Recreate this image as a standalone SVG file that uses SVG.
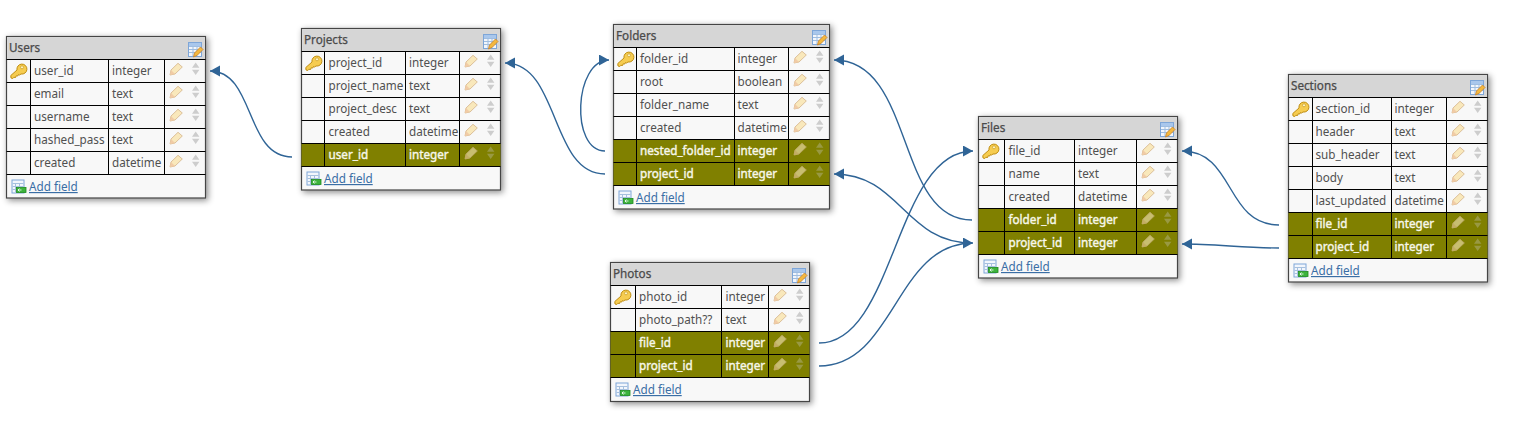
<svg xmlns="http://www.w3.org/2000/svg" width="1522" height="432" viewBox="0 0 1522 432">
<style>
text{font-family:"Noto Sans","Open Sans",sans-serif;font-size:11.7px;fill:#505050}
.title{fill:#4a4a4a;stroke:#4a4a4a;stroke-width:.25}
.box{fill:#f8f8f8;stroke:#444;stroke-width:1.2;filter:url(#sh)}
.head{fill:#d6d6d6}
.grid{stroke:#000;stroke-width:1;fill:none}
.fk{fill:#808000}
text.w{fill:#f7f7ea;stroke:#f7f7ea;stroke-width:.4}
.dim{opacity:.6}
.dima{opacity:.32}
.link{fill:#3a6ea5;text-decoration:underline}
.c{fill:none;stroke:#2f6496;stroke-width:1.4;marker-end:url(#ah)}
</style>
<defs>
<filter id="sh" x="-10%" y="-10%" width="125%" height="125%"><feDropShadow dx="2" dy="2" stdDeviation="3" flood-color="#000" flood-opacity=".45"/></filter>
<marker id="ah" markerUnits="userSpaceOnUse" markerWidth="12" markerHeight="12" refX="10" refY="5.500" orient="auto"><path d="M0 0L10 5.500L0 11Z" fill="#2f6496"/></marker>
<g id="key"><path d="M.8 13L7 7.500A5 5 0 1 1 11 11.500L9.500 12.500L8.500 12L7.800 13.500L6.200 13.300L5.600 15L3.800 14.800L2.800 16L1 15.500Z" fill="#f6cc50" stroke="#c08f14" stroke-width="1"/><circle cx="12" cy="4.800" r="1.500" fill="#fff6c4" stroke="#c08f14" stroke-width=".6"/></g>
<g id="pen"><path d="M.5 12.500L1.500 7.500L8.500 .8L12.800 4.500L5.500 11.500Z" fill="#f9e8bb" stroke="#dcc09a" stroke-width="1"/><path d="M.5 12.500L1.500 7.500L5.500 11.500Z" fill="#f1cba6"/></g>
<g id="arr"><path d="M0 5.200L3.700 0L7.400 5.200Z M0 7.300L7.400 7.300L3.700 12.500Z" fill="#cdcdcd"/></g>
<g id="tb"><rect x=".5" y=".5" width="13" height="14" fill="#f2f6fc" stroke="#7ea6d8"/><path d="M1 4.500H13M1 7.500H13M1 10.500H13M5 4.500V14M9 4.500V14" stroke="#9fbde0" stroke-width="1"/><rect x="1" y="1" width="12" height="3" fill="#a9c7ec"/><path d="M5.500 15L6.500 11L12.500 5L15 7.500L9 13.500Z" fill="#f4b83e" stroke="#c9812a" stroke-width=".8"/></g>
<g id="add"><rect x=".5" y=".5" width="12" height="13" fill="#f2f6fc" stroke="#7ea6d8"/><path d="M1 4H12M1 7H12M1 10H12M4 4V13M8 4V13" stroke="#a6c0de" stroke-width="1"/><rect x="5" y="8" width="9.500" height="5" fill="#3cb33c" stroke="#1d8a1d" stroke-width=".8"/><path d="M6.500 10.500H10M8 9L6.500 10.500L8 12" stroke="#fff" fill="none" stroke-width=".8"/></g>
</defs>
<rect width="1522" height="432" fill="#fff"/>
<g id="users" transform="translate(6.5,36.5)">
<rect class="box" width="199" height="161.500"/>
<rect class="head" x=".6" y=".6" width="197.800" height="22"/>
<text class="title" x="2.500" y="15.500">Users</text><use href="#tb" x="181.500" y="5.500"/>
<path class="grid" d="M0 23H199M0 46H199M0 69H199M0 92H199M0 115H199M0 138H199M24 23V138M102 23V138M158 23V138"/>
<use href="#key" x="3.500" y="26"/>
<text x="27.500" y="38.500">user_id</text><text x="105.500" y="38.500">integer</text>
<text x="27.500" y="61.500">email</text><text x="105.500" y="61.500">text</text>
<text x="27.500" y="84.500">username</text><text x="105.500" y="84.500">text</text>
<text x="27.500" y="107.500">hashed_pass</text><text x="105.500" y="107.500">text</text>
<text x="27.500" y="130.500">created</text><text x="105.500" y="130.500">datetime</text>
<use href="#pen" x="163" y="26"/><use href="#arr" x="185.500" y="26"/>
<use href="#pen" x="163" y="49"/><use href="#arr" x="185.500" y="49"/>
<use href="#pen" x="163" y="72"/><use href="#arr" x="185.500" y="72"/>
<use href="#pen" x="163" y="95"/><use href="#arr" x="185.500" y="95"/>
<use href="#pen" x="163" y="118"/><use href="#arr" x="185.500" y="118"/>
<use href="#add" x="5" y="143"/><text class="link" x="22.500" y="154.500">Add field</text>
</g>
<g id="projects" transform="translate(301.500,28.500)">
<rect class="box" width="199" height="161.500"/>
<rect class="head" x=".6" y=".6" width="197.800" height="22"/>
<text class="title" x="2.500" y="15.500">Projects</text><use href="#tb" x="181.500" y="5.500"/>
<rect class="fk" y="115" width="199" height="23"/>
<path class="grid" d="M0 23H199M0 46H199M0 69H199M0 92H199M0 115H199M0 138H199M23 23V138M104 23V138M158 23V138"/>
<use href="#key" x="3.500" y="26"/>
<text x="27" y="38.500">project_id</text><text x="107.500" y="38.500">integer</text>
<text x="27" y="61.500">project_name</text><text x="107.500" y="61.500">text</text>
<text x="27" y="84.500">project_desc</text><text x="107.500" y="84.500">text</text>
<text x="27" y="107.500">created</text><text x="107.500" y="107.500">datetime</text>
<text class="w" x="27" y="130.500">user_id</text><text class="w" x="107.500" y="130.500">integer</text>
<use href="#pen" x="163" y="26"/><use href="#arr" x="185.500" y="26"/>
<use href="#pen" x="163" y="49"/><use href="#arr" x="185.500" y="49"/>
<use href="#pen" x="163" y="72"/><use href="#arr" x="185.500" y="72"/>
<use href="#pen" x="163" y="95"/><use href="#arr" x="185.500" y="95"/>
<use class="dim" href="#pen" x="163" y="118"/><use class="dima" href="#arr" x="185.500" y="118"/>
<use href="#add" x="5" y="143"/><text class="link" x="22.500" y="154.500">Add field</text>
</g>
<g id="folders" transform="translate(613.500,24.500)">
<rect class="box" width="216" height="184.500"/>
<rect class="head" x=".6" y=".6" width="214.800" height="22"/>
<text class="title" x="2.500" y="15.500">Folders</text><use href="#tb" x="198.500" y="5.500"/>
<rect class="fk" y="115" width="216" height="46"/>
<path class="grid" d="M0 23H216M0 46H216M0 69H216M0 92H216M0 115H216M0 138H216M0 161H216M23 23V161M121 23V161M175 23V161"/>
<use href="#key" x="3.500" y="26"/>
<text x="26.500" y="38.500">folder_id</text><text x="124" y="38.500">integer</text>
<text x="26.500" y="61.500">root</text><text x="124" y="61.500">boolean</text>
<text x="26.500" y="84.500">folder_name</text><text x="124" y="84.500">text</text>
<text x="26.500" y="107.500">created</text><text x="124" y="107.500">datetime</text>
<text class="w" x="26.500" y="130.500">nested_folder_id</text><text class="w" x="124" y="130.500">integer</text>
<text class="w" x="26.500" y="153.500">project_id</text><text class="w" x="124" y="153.500">integer</text>
<use href="#pen" x="180" y="26"/><use href="#arr" x="202.500" y="26"/>
<use href="#pen" x="180" y="49"/><use href="#arr" x="202.500" y="49"/>
<use href="#pen" x="180" y="72"/><use href="#arr" x="202.500" y="72"/>
<use href="#pen" x="180" y="95"/><use href="#arr" x="202.500" y="95"/>
<use class="dim" href="#pen" x="180" y="118"/><use class="dima" href="#arr" x="202.500" y="118"/>
<use class="dim" href="#pen" x="180" y="141"/><use class="dima" href="#arr" x="202.500" y="141"/>
<use href="#add" x="5" y="166"/><text class="link" x="22.500" y="177.500">Add field</text>
</g>
<g id="photos" transform="translate(610.500,262.500)">
<rect class="box" width="199" height="139"/>
<rect class="head" x=".6" y=".6" width="197.800" height="22"/>
<text class="title" x="2.500" y="15.500">Photos</text><use href="#tb" x="181.500" y="5.500"/>
<rect class="fk" y="69" width="199" height="46"/>
<path class="grid" d="M0 23H199M0 46H199M0 69H199M0 92H199M0 115H199M25 23V115M111 23V115M158 23V115"/>
<use href="#key" x="3.500" y="26"/>
<text x="28.500" y="38.500">photo_id</text><text x="115" y="38.500">integer</text>
<text x="28.500" y="61.500">photo_path??</text><text x="115" y="61.500">text</text>
<text class="w" x="28.500" y="84.500">file_id</text><text class="w" x="115" y="84.500">integer</text>
<text class="w" x="28.500" y="107.500">project_id</text><text class="w" x="115" y="107.500">integer</text>
<use href="#pen" x="163" y="26"/><use href="#arr" x="185.500" y="26"/>
<use href="#pen" x="163" y="49"/><use href="#arr" x="185.500" y="49"/>
<use class="dim" href="#pen" x="163" y="72"/><use class="dima" href="#arr" x="185.500" y="72"/>
<use class="dim" href="#pen" x="163" y="95"/><use class="dima" href="#arr" x="185.500" y="95"/>
<use href="#add" x="5" y="120"/><text class="link" x="22.500" y="131.500">Add field</text>
</g>
<g id="files" transform="translate(978.500,116.500)">
<rect class="box" width="199" height="161.500"/>
<rect class="head" x=".6" y=".6" width="197.800" height="22"/>
<text class="title" x="2.500" y="15.500">Files</text><use href="#tb" x="181.500" y="5.500"/>
<rect class="fk" y="92" width="199" height="46"/>
<path class="grid" d="M0 23H199M0 46H199M0 69H199M0 92H199M0 115H199M0 138H199M26 23V138M96 23V138M158 23V138"/>
<use href="#key" x="3.500" y="26"/>
<text x="30" y="38.500">file_id</text><text x="99.500" y="38.500">integer</text>
<text x="30" y="61.500">name</text><text x="99.500" y="61.500">text</text>
<text x="30" y="84.500">created</text><text x="99.500" y="84.500">datetime</text>
<text class="w" x="30" y="107.500">folder_id</text><text class="w" x="99.500" y="107.500">integer</text>
<text class="w" x="30" y="130.500">project_id</text><text class="w" x="99.500" y="130.500">integer</text>
<use href="#pen" x="163" y="26"/><use href="#arr" x="185.500" y="26"/>
<use href="#pen" x="163" y="49"/><use href="#arr" x="185.500" y="49"/>
<use href="#pen" x="163" y="72"/><use href="#arr" x="185.500" y="72"/>
<use class="dim" href="#pen" x="163" y="95"/><use class="dima" href="#arr" x="185.500" y="95"/>
<use class="dim" href="#pen" x="163" y="118"/><use class="dima" href="#arr" x="185.500" y="118"/>
<use href="#add" x="5" y="143"/><text class="link" x="22.500" y="154.500">Add field</text>
</g>
<g id="sections" transform="translate(1288.500,74.500)">
<rect class="box" width="199" height="207.500"/>
<rect class="head" x=".6" y=".6" width="197.800" height="22"/>
<text class="title" x="2.500" y="15.500">Sections</text><use href="#tb" x="181.500" y="5.500"/>
<rect class="fk" y="138" width="199" height="46"/>
<path class="grid" d="M0 23H199M0 46H199M0 69H199M0 92H199M0 115H199M0 138H199M0 161H199M0 184H199M24 23V184M103 23V184M158 23V184"/>
<use href="#key" x="3.500" y="26"/>
<text x="27" y="38.500">section_id</text><text x="106" y="38.500">integer</text>
<text x="27" y="61.500">header</text><text x="106" y="61.500">text</text>
<text x="27" y="84.500">sub_header</text><text x="106" y="84.500">text</text>
<text x="27" y="107.500">body</text><text x="106" y="107.500">text</text>
<text x="27" y="130.500">last_updated</text><text x="106" y="130.500">datetime</text>
<text class="w" x="27" y="153.500">file_id</text><text class="w" x="106" y="153.500">integer</text>
<text class="w" x="27" y="176.500">project_id</text><text class="w" x="106" y="176.500">integer</text>
<use href="#pen" x="163" y="26"/><use href="#arr" x="185.500" y="26"/>
<use href="#pen" x="163" y="49"/><use href="#arr" x="185.500" y="49"/>
<use href="#pen" x="163" y="72"/><use href="#arr" x="185.500" y="72"/>
<use href="#pen" x="163" y="95"/><use href="#arr" x="185.500" y="95"/>
<use href="#pen" x="163" y="118"/><use href="#arr" x="185.500" y="118"/>
<use class="dim" href="#pen" x="163" y="141"/><use class="dima" href="#arr" x="185.500" y="141"/>
<use class="dim" href="#pen" x="163" y="164"/><use class="dima" href="#arr" x="185.500" y="164"/>
<use href="#add" x="5" y="189"/><text class="link" x="22.500" y="200.500">Add field</text>
</g>
<g id="connectors">
<path class="c" d="M292 157C245 157 255 71 210 71"/>
<path class="c" d="M605 151C570 151 574 60 609 60"/>
<path class="c" d="M605 174C550 174 560 63 505 63"/>
<path class="c" d="M972 220C895 220 915 60 834 60"/>
<path class="c" d="M972 243C905 243 900 174 834 174"/>
<path class="c" d="M819 343C895 343 895 151 973 151"/>
<path class="c" d="M819 366C895 366 895 243 973 243"/>
<path class="c" d="M1279 225C1225 225 1235 151 1182 151"/>
<path class="c" d="M1279 248C1245 248 1215 244 1182 244"/>
</g>
</svg>
